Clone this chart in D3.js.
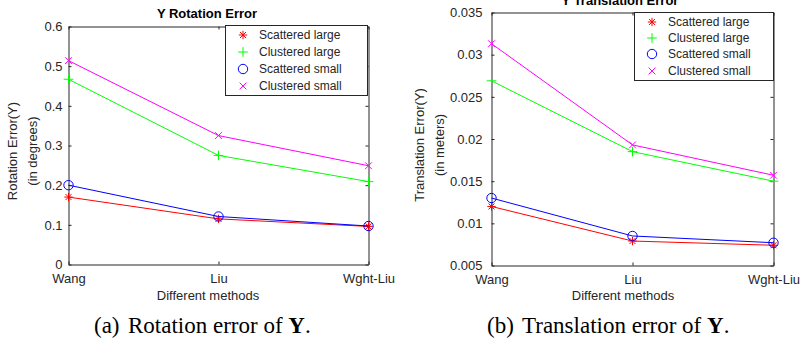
<!DOCTYPE html>
<meta charset="utf-8">
<script src="https://d3js.org/d3.v7.min.js"></script>
<style>
  body { margin: 0; background: #fff; }
  text { font-family: "Liberation Sans", Arial, sans-serif; fill: #262626; }
</style>
<div id="my_dataviz"></div>
<script>

// categories and legend entries
var methods = ["Wang", "Liu", "Wght-Liu"];
var seriesNames = ["Scattered large", "Clustered large", "Scattered small", "Clustered small"];

// rotation error of Y (degrees)
var rotScatteredLarge = [0.170, 0.115, 0.096];
var rotClusteredLarge = [0.467, 0.275, 0.209];
var rotScatteredSmall = [0.200, 0.121, 0.097];
var rotClusteredSmall = [0.514, 0.325, 0.249];
var rotTicks = [0, 0.1, 0.2, 0.3, 0.4, 0.5, 0.6];
var rotTickLabels = ["0", "0.1", "0.2", "0.3", "0.4", "0.5", "0.6"];

// translation error of Y (meters)
var transScatteredLarge = [0.0120, 0.0079, 0.0074];
var transClusteredLarge = [0.0269, 0.0185, 0.0150];
var transScatteredSmall = [0.0130, 0.0085, 0.0077];
var transClusteredSmall = [0.0313, 0.0193, 0.0157];
var transTicks = [0.005, 0.01, 0.015, 0.02, 0.025, 0.03, 0.035];
var transTickLabels = ["0.005", "0.01", "0.015", "0.02", "0.025", "0.03", "0.035"];

var colors = ["#ff0000", "#00ff00", "#0000ff", "#ff00ff"];
var markers = ["star", "plus", "circle", "cross"];
var axisColor = "#262626";

var svg = d3.select("#my_dataviz")
  .append("svg")
    .attr("width", 801)
    .attr("height", 343);

// draw a matlab style marker at 0,0 of group g
function drawMarker(g, type, color) {
  if (type == "circle") {
    g.append("circle").attr("r", 4.7)
      .attr("fill", "none").attr("stroke", color).attr("stroke-width", 1);
    return;
  }
  var p = "";
  if (type == "star") p = "M0,-4.2V4.2M-4.2,0H4.2M-3,-3L3,3M-3,3L3,-3";
  if (type == "plus") p = "M0,-4.8V4.8M-4.8,0H4.8";
  if (type == "cross") p = "M-3.4,-3.4L3.4,3.4M-3.4,3.4L3.4,-3.4";
  g.append("path").attr("d", p)
    .attr("fill", "none").attr("stroke", color).attr("stroke-width", 1);
}

function panel(cfg) {
  var g = svg.append("g");

  var x = d3.scalePoint().domain(methods).range([cfg.left, cfg.right]);
  var y = d3.scaleLinear().domain(cfg.domain).range([cfg.bottom, cfg.top]);

  // box and inward ticks on all four sides
  g.append("g")
    .attr("transform", "translate(0," + cfg.bottom + ")")
    .call(d3.axisBottom(x).tickSizeInner(-3).tickSizeOuter(0))
    .call(function(a) {
      a.selectAll("text").attr("dy", null).attr("y", 18).style("font-size", "13px");
    });
  g.append("g")
    .attr("transform", "translate(0," + cfg.top + ")")
    .call(d3.axisTop(x).tickSizeInner(-3).tickSizeOuter(0).tickFormat(""));
  g.append("g")
    .attr("transform", "translate(" + cfg.left + ",0)")
    .call(d3.axisLeft(y).tickValues(cfg.ticks).tickSizeInner(-3).tickSizeOuter(0)
      .tickPadding(cfg.pad).tickFormat(function(d, i) { return cfg.tickLabels[i]; }))
    .call(function(a) { a.selectAll("text").style("font-size", "13px"); });
  g.append("g")
    .attr("transform", "translate(" + cfg.right + ",0)")
    .call(d3.axisRight(y).tickValues(cfg.ticks).tickSizeInner(-3).tickSizeOuter(0).tickFormat(""));

  g.selectAll(".domain, .tick line").attr("stroke", axisColor);
  g.selectAll(".tick text").attr("fill", axisColor).style("font-family", "'Liberation Sans', Arial, sans-serif");

  // series
  var line = d3.line()
    .x(function(d, i) { return x(methods[i]); })
    .y(function(d) { return y(d); });

  cfg.series.forEach(function(s, k) {
    g.append("path")
      .datum(s)
      .attr("d", line)
      .attr("fill", "none")
      .attr("stroke", colors[k])
      .attr("stroke-width", 1);
    s.forEach(function(v, i) {
      var m = g.append("g").attr("transform", "translate(" + x(methods[i]) + "," + y(v) + ")");
      drawMarker(m, markers[k], colors[k]);
    });
  });

  // title
  g.append("text")
    .attr("x", cfg.titleX).attr("y", cfg.titleY)
    .attr("text-anchor", "middle")
    .style("font-size", "13px").style("font-weight", "bold")
    .style("fill", "#000")
    .text(cfg.title);

  // axis labels
  g.append("text")
    .attr("x", cfg.xLabelX).attr("y", 299.5)
    .attr("text-anchor", "middle").style("font-size", "13px")
    .text("Different methods");
  cfg.yLabel.forEach(function(t, i) {
    g.append("text")
      .attr("transform", "translate(" + cfg.yLabelX[i] + "," + cfg.yLabelY + ") rotate(-90)")
      .attr("text-anchor", "middle").style("font-size", "13px")
      .text(t);
  });

  // legend
  var lg = cfg.legend;
  g.append("rect")
    .attr("x", lg.x0 + 0.5).attr("y", lg.y0 + 0.5)
    .attr("width", lg.x1 - lg.x0).attr("height", lg.y1 - lg.y0)
    .attr("fill", "#fff").attr("stroke", axisColor).attr("stroke-width", 1);
  seriesNames.forEach(function(name, k) {
    var yy = lg.rows[k];
    drawMarker(g.append("g").attr("transform", "translate(" + lg.mx + "," + yy + ")"), markers[k], colors[k]);
    g.append("text")
      .attr("x", lg.tx).attr("y", yy).attr("dy", "0.35em")
      .style("font-size", "12px")
      .text(name);
  });

  // caption
  var cap = svg.append("text")
    .attr("y", 333)
    .style("font-family", "'Liberation Serif', 'Times New Roman', serif")
    .style("font-size", "23px")
    .style("fill", "#000");
  cap.append("tspan").attr("x", cfg.capX0).text(cfg.capTag);
  cap.append("tspan").attr("x", cfg.capX1).text(cfg.caption + " ");
  cap.append("tspan").style("font-weight", "bold").text("Y");
  cap.append("tspan").text(".");
}

panel({
  left: 68.5, right: 368.5, top: 26.5, bottom: 264.5,
  domain: [0, 0.6], ticks: rotTicks, tickLabels: rotTickLabels, pad: 6,
  series: [rotScatteredLarge, rotClusteredLarge, rotScatteredSmall, rotClusteredSmall],
  title: "Y Rotation Error", titleX: 207, titleY: 18, xLabelX: 208,
  yLabel: ["Rotation Error(Y)", "(in degrees)"], yLabelX: [17, 36.5], yLabelY: 151,
  legend: {x0: 225, y0: 25, x1: 367, y1: 95, mx: 243, tx: 259, rows: [35, 52, 69, 86]},
  capTag: "(a)", capX0: 94, capX1: 128, caption: "Rotation error of"
});

panel({
  left: 491.5, right: 773.5, top: 12.5, bottom: 265.5,
  domain: [0.005, 0.035], ticks: transTicks, tickLabels: transTickLabels, pad: 9,
  series: [transScatteredLarge, transClusteredLarge, transScatteredSmall, transClusteredSmall],
  title: "Y Translation Error", titleX: 620, titleY: 5, xLabelX: 623,
  yLabel: ["Translation Error(Y)", "(in meters)"], yLabelX: [424, 444], yLabelY: 145,
  legend: {x0: 634, y0: 12, x1: 773, y1: 80, mx: 652, tx: 668, rows: [22, 38, 54, 71]},
  capTag: "(b)", capX0: 487, capX1: 522, caption: "Translation error of"
});

</script>
